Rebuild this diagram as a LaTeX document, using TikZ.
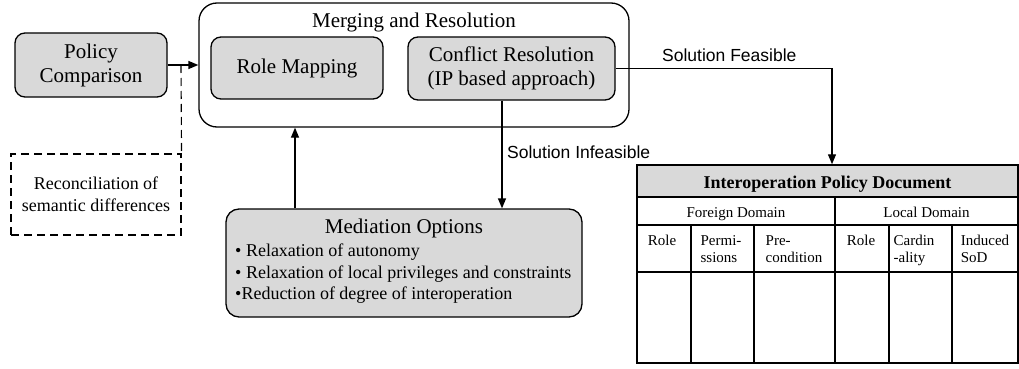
\documentclass[tikz,border=0pt]{standalone}
\usepackage{fontspec}
\setmainfont{Liberation Serif}
\newfontfamily\arialf{Liberation Sans}
\usetikzlibrary{arrows.meta,calc}
\definecolor{boxgray}{RGB}{217,217,217}
\begin{document}
\begin{tikzpicture}[x=1pt,y=-1pt,
  gbox/.style={draw, fill=boxgray, line width=1.3pt, rounded corners=10pt, inner sep=0pt},
  big/.style={font=\fontsize{21}{24}\selectfont},
  mid/.style={font=\fontsize{18}{22}\selectfont},
  small/.style={font=\fontsize{15}{17}\selectfont},
  hdr/.style={font=\bfseries\fontsize{18}{20}\selectfont},
  lab/.style={font=\arialf\fontsize{17.5}{20}\selectfont},
  arr/.style={-{Triangle[length=10pt,width=8pt]}, line width=1.3pt},
  dline/.style={line width=1.1pt, dash pattern=on 8pt off 5pt},
  tline/.style={line width=1.3pt}]
\useasboundingbox (0,0) rectangle (1019,369);

% Policy comparison
\node[gbox, minimum width=152pt, minimum height=64pt, big, align=center] (pol) at (91,65) {Policy\\Comparison};

% Merging and resolution
\node[draw, line width=1.3pt, rounded corners=18pt, minimum width=430pt, minimum height=124pt, inner sep=0pt] (merge) at (414,65) {};
\node[big, anchor=base, inner sep=0pt] (mergetitle) at (414,28) {Merging and Resolution};
\node[gbox, minimum width=172pt, minimum height=62pt, big] (role) at (297,68) {Role Mapping};
\node[gbox, minimum width=207pt, minimum height=63pt, big, align=center] (conf) at (511.5,68.5) {Conflict Resolution\\(IP based approach)};

% Reconciliation
\node[draw, dline, minimum width=170pt, minimum height=81pt, mid, align=center, inner sep=0pt] (recon) at (96,194.5) {Reconciliation of\\semantic differences};

% Mediation options
\node[gbox, rounded corners=13pt, minimum width=356pt, minimum height=108pt] (med) at (404,263) {};
\node[big, anchor=base, inner sep=0pt] (medtitle) at (404,233) {Mediation Options};
\node[mid, anchor=base west, inner sep=0pt] (m1) at (235,256) {• Relaxation of autonomy};
\node[mid, anchor=base west, inner sep=0pt] (m2) at (235,278) {• Relaxation of local privileges and constraints};
\node[mid, anchor=base west, inner sep=0pt] (m3) at (235,299) {•Reduction of degree of interoperation};

% Table
\fill[boxgray] (637,165) rectangle (1018,197);
\draw[tline] (637,197) -- (1018,197);
\draw[tline] (637,225) -- (1018,225);
\draw[tline] (637,272) -- (1018,272);
\draw[tline] (835,197) -- (835,363);
\foreach \xx in {691,754,889,952} \draw[tline] (\xx,225) -- (\xx,363);
\node[draw, line width=1.5pt, minimum width=381pt, minimum height=198pt, inner sep=0pt] (tab) at (827.5,264) {};
\node[hdr, anchor=base, inner sep=0pt] (tabtitle) at (827.5,188) {Interoperation Policy Document};
\node[small, anchor=base, inner sep=0pt] (foreign) at (736,217) {Foreign Domain};
\node[small, anchor=base, inner sep=0pt] (local) at (926.5,217) {Local Domain};
\node[small, anchor=north, align=left, inner sep=0pt] (c1) at (662,235) {Role};
\node[small, anchor=north, align=left, inner sep=0pt] (c2) at (721,235) {Permi-\\ssions};
\node[small, anchor=north, align=left, inner sep=0pt] (c3) at (794,235) {Pre-\\condition};
\node[small, anchor=north, align=left, inner sep=0pt] (c4) at (861,235) {Role};
\node[small, anchor=north, align=left, inner sep=0pt] (c5) at (914,235) {Cardin\\-ality};
\node[small, anchor=north, align=left, inner sep=0pt] (c6) at (985,235) {Induced\\SoD};

% Connectors
\coordinate (j) at (181,65);
\coordinate (ux) at (295,0);
\coordinate (ix) at (502,0);
\coordinate (fx) at (832,0);
\draw[arr] (pol.east) -- (merge.west);
\draw[dline] (j) -- (recon.north east);
\draw[arr] (med.north -| ux) -- (merge.south -| ux);
\draw[arr] (conf.south -| ix) -- (med.north -| ix);
\draw[arr] (conf.east) -| (tab.north -| fx);
\node[lab, anchor=base west, inner sep=0pt] (feas) at (662,62) {Solution Feasible};
\node[lab, anchor=base west, inner sep=0pt] (infeas) at (507,158) {Solution Infeasible};
\end{tikzpicture}
\end{document}
